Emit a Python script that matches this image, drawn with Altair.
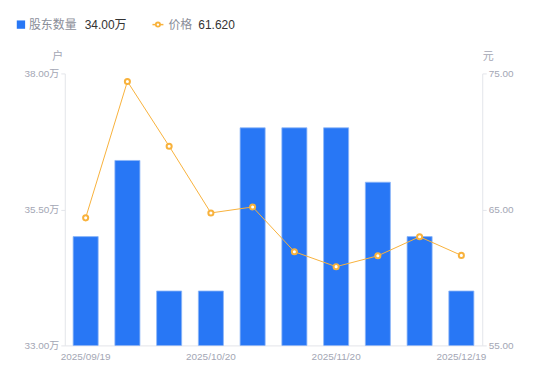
import altair as alt
import pandas as pd

dates = ["2025/09/19", "2025/09/30", "2025/10/10", "2025/10/20", "2025/10/31",
         "2025/11/10", "2025/11/20", "2025/11/28", "2025/12/10", "2025/12/19"]
holders = [35.0, 36.4, 34.0, 34.0, 37.0, 37.0, 37.0, 36.0, 35.0, 34.0]  # 万户
prices = [64.38, 74.41, 69.65, 64.74, 65.18, 61.89, 60.79, 61.59, 62.99, 61.62]
shown_labels = ["2025/09/19", "2025/10/20", "2025/11/20", "2025/12/19"]

df = pd.DataFrame({"date": dates, "holders": holders, "price": prices})

BLUE = "#2877F5"
ORANGE = "#F8B23C"
GRAY = "#A3A6B4"
FONT = "Liberation Sans, Noto Sans CJK SC"

label_expr = "indexof(" + str(shown_labels).replace("'", '"') + ", datum.value) >= 0 ? datum.value : ''"

x = alt.X("date:N", sort=dates, title=None,
          scale=alt.Scale(paddingInner=0.4, paddingOuter=0.2),
          axis=alt.Axis(labelExpr=label_expr, labelAngle=0, ticks=False,
                        domainColor="#E3E5EA", labelColor=GRAY, labelFontSize=10,
                        labelFont=FONT, labelPadding=6, labelOverlap=False))

bars = alt.Chart(df).mark_bar(color=BLUE, stroke="#8DB6F7", strokeWidth=0.8, clip=True).encode(
    x=x,
    y=alt.Y("holders:Q", scale=alt.Scale(domain=[33, 38], nice=False, zero=False),
            title=None,
            axis=alt.Axis(values=[33, 35.5, 38], labelExpr="format(datum.value, '.2f') + '万'",
                          grid=False, domainColor="#E3E5EA", tickColor="#E3E5EA",
                          tickSize=4, labelColor=GRAY, labelFontSize=10, labelFont=FONT,
                          labelPadding=2)),
)

line = alt.Chart(df).mark_line(color=ORANGE, strokeWidth=1).encode(
    x=alt.X("date:N", sort=dates),
    y=alt.Y("price:Q", scale=alt.Scale(domain=[55, 75], nice=False, zero=False), title=None,
            axis=alt.Axis(orient="right", values=[55, 65, 75], format=".2f", grid=False,
                          domainColor="#E3E5EA", tickColor="#E3E5EA", tickSize=4,
                          labelColor=GRAY, labelFontSize=10, labelFont=FONT, labelPadding=2)),
)
pts = alt.Chart(df).mark_point(shape="circle", filled=True, fill="white", stroke=ORANGE,
                               strokeWidth=2, size=26, opacity=1).encode(
    x=alt.X("date:N", sort=dates),
    y=alt.Y("price:Q", scale=alt.Scale(domain=[55, 75], nice=False, zero=False)),
)

price_layer = alt.layer(line, pts)

# axis unit titles and legend (decoration)
def txt(s, xp, yp, color, size=12, align="left"):
    return alt.Chart(pd.DataFrame({"t": [s]})).mark_text(
        align=align, baseline="middle", color=color, fontSize=size, font=FONT
    ).encode(text="t:N", x=alt.value(xp), y=alt.value(yp))

deco = alt.layer(
    txt("户", -7, -16, GRAY, 11, "center"),
    txt("元", 425, -16, GRAY, 11, "center"),
    alt.Chart(pd.DataFrame({"a": [0]})).mark_square(color=BLUE, size=70, opacity=1, filled=True)
        .encode(x=alt.value(-44), y=alt.value(-49)),
    txt("股东数量", -36, -49, "#8A8E99", 12),
    txt("34.00万", 20, -49, "#333333", 12),
    alt.Chart(pd.DataFrame({"a": [0]})).mark_rule(color=ORANGE, strokeWidth=1.5)
        .encode(x=alt.value(88), x2=alt.value(99), y=alt.value(-49)),
    alt.Chart(pd.DataFrame({"a": [0]})).mark_point(shape="circle", filled=True, fill="white",
                                                   stroke=ORANGE, strokeWidth=1.8, size=18, opacity=1)
        .encode(x=alt.value(93.5), y=alt.value(-49)),
    txt("价格", 104, -49, "#8A8E99", 12),
    txt("61.620", 134, -49, "#333333", 12),
)

chart = alt.layer(bars, price_layer, deco).resolve_scale(y="independent").properties(
    width=419, height=273,
    autosize=alt.AutoSizeParams(type="none"),
    padding={"left": 57, "top": 65, "right": 60, "bottom": 20},
).configure_view(stroke=None)

chart.save("out.html", embed_options={"renderer": "svg", "actions": False})
